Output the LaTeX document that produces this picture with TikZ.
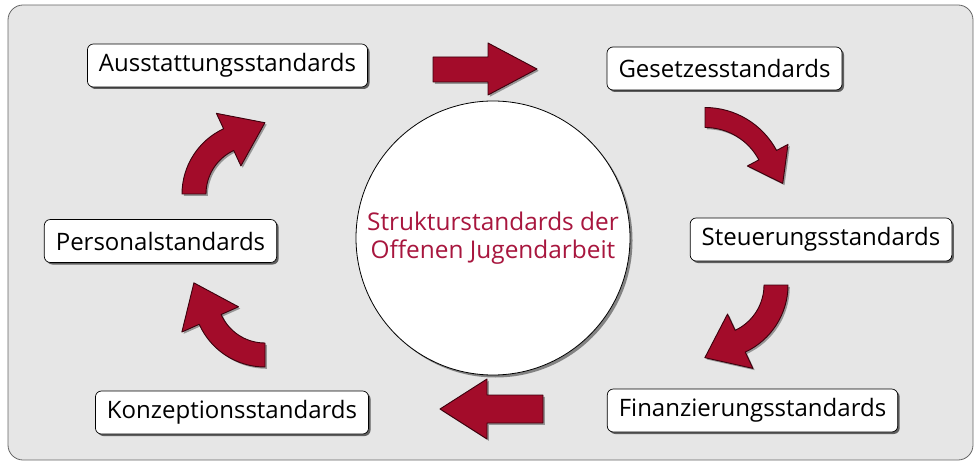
\documentclass[tikz,border=0pt]{standalone}
\usepackage{fontspec}
\setmainfont{Open Sans}
\usetikzlibrary{shadows,calc}
\definecolor{arrowred}{RGB}{163,12,42}
\definecolor{arrowedge}{RGB}{60,0,12}
\definecolor{bggray}{RGB}{230,230,230}
\definecolor{titlered}{RGB}{168,22,62}
% curved arrow: #1 cx, #2 cy, #3 rotation, #4 R, #5 half band, #6 half head, #7 head length, #8 sweep
\newcommand\cArrow[8]{%
  \def\cArrowPath{(90:{#4+#5}) arc[start angle=90,end angle={90-#8},radius={#4+#5}]
    -- ({90-#8}:{#4+#6}) -- ($({90-#8}:#4)+({-#8}:#7)$) -- ({90-#8}:{#4-#6})
    -- ({90-#8}:{#4-#5}) arc[start angle={90-#8},end angle=90,radius={#4-#5}] -- cycle}%
  \begin{scope}[shift={({#1+1.8},{#2-1.8})},rotate=#3]
    \fill[black,opacity=0.35] \cArrowPath;
  \end{scope}
  \begin{scope}[shift={(#1,#2)},rotate=#3]
    \path[arrowshape] \cArrowPath;
  \end{scope}}
\begin{document}
\begin{tikzpicture}[x=1pt,y=1pt,
  stdbox/.style={draw=black, line width=0.7pt, fill=white, rounded corners=6pt,
    minimum height=43pt, inner xsep=11.5pt, font=\fontsize{24}{28}\selectfont,
    drop shadow={shadow xshift=2pt,shadow yshift=-2pt,opacity=0.75,fill=black!80}},
  arrowshape/.style={fill=arrowred, draw=arrowedge, line width=0.9pt, line join=round},
  hub/.style={circle, draw=black, line width=0.8pt, fill=white, minimum size=274pt,
    align=center, text=titlered, font=\fontsize{24.4}{28.5}\selectfont,
    drop shadow={shadow xshift=2.5pt,shadow yshift=-2.5pt,opacity=0.55,fill=black!80}}]
\useasboundingbox (0,0) rectangle (979,464);
\draw[fill=bggray, draw=black!60, line width=0.8pt, rounded corners=15pt] (8,4) rectangle (973,459);

\node[hub] (center) at (493,226) {Strukturstandards der\\Offenen Jugendarbeit};

\node[stdbox] (auss) at (227.5,398.5) {Ausstattungsstandards};
\node[stdbox] (gesetz) at (724.5,395.5) {Gesetzesstandards};
\node[stdbox] (steuer) at (821,224.5) {Steuerungsstandards};
\node[stdbox] (finanz) at (752.5,53.5) {Finanzierungsstandards};
\node[stdbox] (konz) at (232,51.5) {Konzeptionsstandards};
\node[stdbox] (pers) at (160.5,223) {Personalstandards};

% straight arrows
\fill[black,opacity=0.35] ($(433,407)+(1.8,-1.8)$) -- ++(55,0) -- ++(0,14) -- ++(49,-26) -- ++(-49,-26) -- ++(0,13) -- ++(-55,0) -- cycle;
\path[arrowshape] (433,407) -- (488,407) -- (488,421) -- (537,395) -- (488,369) -- (488,382) -- (433,382) -- cycle;
\fill[black,opacity=0.35] ($(543,69)+(1.8,-1.8)$) -- ++(-56,0) -- ++(0,16) -- ++(-47,-30) -- ++(47,-30) -- ++(0,16) -- ++(56,0) -- cycle;
\path[arrowshape] (543,69) -- (487,69) -- (487,85) -- (440,55) -- (487,25) -- (487,41) -- (543,41) -- cycle;

% curved arrows
\cArrow{705}{275.5}{0}{71}{10}{23}{32}{62}
\cArrow{714}{179}{-90}{62}{12}{30}{39}{65}
\cArrow{254}{270}{90}{60}{12}{29}{40}{65}
\cArrow{265}{169}{180}{60}{12}{31}{40}{66}
\end{tikzpicture}
\end{document}
